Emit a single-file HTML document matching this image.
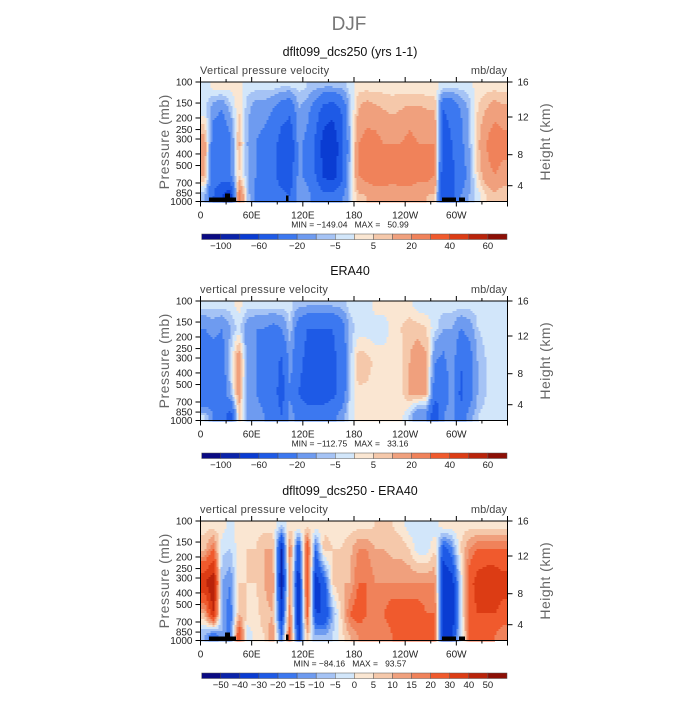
<!DOCTYPE html>
<html><head><meta charset="utf-8"><style>
html,body{margin:0;padding:0;background:#fff;}
svg text{font-family:"Liberation Sans",sans-serif;white-space:pre;}
</style></head><body>
<svg id="fig" width="700" height="700" viewBox="0 0 700 700" xmlns="http://www.w3.org/2000/svg">
<text x="349" y="30" font-size="19" fill="#777" text-anchor="middle" font-weight="100">DJF</text>
</svg>
<script>
// Pressure levels (mb) at which column values are given (top to bottom)
const levels = [110, 170, 330, 600, 900];
// Longitude centers (deg east) of data columns
const lons = [5,15,25,35,45,55,65,75,85,95,105,115,125,135,145,155,165,175,185,195,205,215,225,235,245,255,265,275,285,295,305,315,325,335,345,355];
// Panel 1: model, values per level (mb/day)
const m110 = [-3,2,2,2,2,-3,-3,-3,-3,-5,-5,-3,-5,-8,-10,-10,-8,-3,3,3,3,3,3,3,2,2,2,2,-3,-3,-3,-3,3,3,3,3];
const m170 = [-3,-15,-20,-8,5,-8,-15,-15,-20,-30,-35,-10,-15,-30,-50,-55,-40,-8,10,15,12,10,8,10,12,12,10,10,-40,-35,-20,-8,5,10,15,12];
const m330 = [15,-30,-35,-25,12,-10,-20,-25,-30,-50,-60,-15,-25,-45,-70,-75,-50,-10,20,25,25,20,20,20,25,20,20,20,-50,-40,-25,-10,8,20,30,25];
const m600 = [12,-30,-30,-20,5,-8,-20,-30,-35,-50,-55,-15,-25,-40,-65,-70,-50,-8,20,25,30,30,25,30,30,25,25,20,-60,-45,-30,-15,5,15,20,15];
const m900 = [-10,-40,-60,-80,30,-5,-25,-25,-30,-35,-40,-10,-15,-25,-35,-35,-25,-5,8,10,12,12,12,12,12,10,10,8,-60,-50,-20,-10,-3,5,8,5];
// Panel 2: ERA40
const e110 = [-3,-3,-3,-3,2,-3,-3,-3,-3,-3,-3,-8,-10,-10,-10,-10,-8,-3,-3,-3,2,2,2,2,2,-3,-3,-3,-3,-3,-3,-3,-3,-3,-3,-3];
const e170 = [-20,-15,-20,-10,-3,-15,-20,-20,-25,-20,-5,-30,-40,-40,-40,-40,-30,-8,-3,-3,-3,-3,2,5,8,8,5,-3,-10,-10,-20,-15,-5,-3,-3,-3];
const e330 = [-35,-30,-30,-5,20,-15,-20,-25,-30,-45,-15,-35,-45,-45,-50,-45,-35,-8,10,8,3,3,3,3,10,15,12,-20,-25,-10,-40,-30,-10,-5,-3,-3];
const e600 = [-40,-35,-30,-10,15,-15,-20,-25,-30,-50,-20,-40,-50,-50,-50,-45,-35,-5,3,3,3,3,3,3,10,12,10,-30,-40,-10,-45,-30,-10,-5,-3,-3];
const e900 = [-5,-20,-30,-50,8,-10,-15,-20,-25,-40,-15,-25,-30,-30,-30,-25,-15,-3,3,2,2,2,2,2,-5,-20,-20,-60,-20,-10,-35,-15,-5,-3,-3,-3];
// Panel 3: difference
const d110 = [3,3,3,-3,3,3,3,3,3,-5,3,5,3,3,3,3,3,3,3,3,5,5,5,3,-3,-3,-3,-3,3,3,3,3,3,3,3,3];
const d170 = [8,20,-3,-5,3,5,5,10,10,-40,20,-30,30,-20,8,5,5,8,15,15,10,10,8,8,5,-3,-3,5,-25,-15,5,15,20,20,20,20];
const d330 = [40,50,-10,-15,5,5,5,10,15,-45,15,-40,30,-35,-25,5,10,10,20,20,15,15,15,15,15,15,15,15,-40,-35,-5,25,35,40,40,35];
const d600 = [10,40,-10,-20,10,5,3,8,10,-35,20,-40,25,-30,-30,-10,5,20,25,20,20,20,25,25,25,25,20,20,-40,-40,-5,25,30,30,30,25];
const d900 = [-10,-20,-10,-20,30,-5,3,5,15,-20,25,-35,10,-10,-10,-5,3,10,15,15,15,15,20,20,20,20,20,20,-40,-30,-5,20,25,20,20,15];
// Contour level boundaries
const bounds12 = [-100,-80,-60,-40,-20,-10,-5,0,5,10,20,30,40,50,60];
const bounds3 = [-50,-40,-30,-20,-15,-10,-5,0,5,10,15,20,30,40,50];
const cbLabels12 = ["\u2212100","\u221260","\u221220","\u22125","5","20","40","60"];
const cbLabels3 = ["\u221250","\u221240","\u221230","\u221220","\u221215","\u221210","\u22125","0","5","10","15","20","30","40","50"];
const xTickLabels = ["0","60E","120E","180","120W","60W"];
const pTicks = [100,150,200,250,300,400,500,700,850,1000];
const hTicks = [4,8,12,16];
const hTickY = [103.7,72.7,35,0];
const colors = ["#0a0a82","#0a23aa","#0a3cd2","#1e5ae6","#3c78f0","#6e9bf0","#a5c3f5","#d2e6fa","#fae6d2","#f5c8aa","#f0a07d","#f0825a","#f05a2d","#dc3c14","#b9230a","#8c0f05"];
const panels = [
  {top:82, title:"dflt099_dcs250 (yrs 1-1)", rows:[m110,m170,m330,m600,m900], bounds:bounds12, labels:cbLabels12, labelStep:2, mm:"MIN = \u2212149.04   MAX =   50.99", land:true, name:"model"},
  {top:301, title:"ERA40", rows:[e110,e170,e330,e600,e900], bounds:bounds12, labels:cbLabels12, labelStep:2, mm:"MIN = \u2212112.75   MAX =   33.16", land:false, name:"era40"},
  {top:521, title:"dflt099_dcs250 - ERA40", rows:[d110,d170,d330,d600,d900], bounds:bounds3, labels:cbLabels3, labelStep:1, mm:"MIN = \u221284.16   MAX =   93.57", land:true, name:"difference"}
];
const NS="http://www.w3.org/2000/svg";
const svg=document.getElementById('fig');
const X0=200.5, X1=507.5, H=119.5;
function xs(lon){return X0+(lon/360)*(X1-X0);}
function ys(p,top){return top+Math.log10(p/100)*H;}
function mk(tag,at,parent){const e=document.createElementNS(NS,tag);for(const k in at)e.setAttribute(k,at[k]);(parent||svg).appendChild(e);return e;}
function colorFor(v,b){let i=0;while(i<b.length&&v>=b[i])i++;return colors[i];}
function interp(arr,pos){
  if(pos<=0)return arr[0]; if(pos>=arr.length-1)return arr[arr.length-1];
  const i=Math.floor(pos),f=pos-i;return arr[i]*(1-f)+arr[i+1]*f;}
panels.forEach((P,pi)=>{
  const g=mk('g',{});
  
  
  const t=mk('text',{x:350,y:P.top-26,'font-size':12.5,'text-anchor':'middle',fill:'#111'},g);t.textContent=P.title;
  
  
  const s1=mk('text',{x:200,y:P.top-8,'font-size':11,fill:'#444','letter-spacing':'0.3'},g);s1.textContent=(pi===0?"Vertical":"vertical")+" pressure velocity";
  
  
  const s2=mk('text',{x:507,y:P.top-8,'font-size':11,fill:'#444','text-anchor':'end'},g);s2.textContent="mb/day";
  
  
  const field=mk('g',{},g);
  
  
  const lv=levels.map(p=>Math.log10(p));
  const dx=2, dy=2;
  for(let y=P.top;y<P.top+H;y+=dy){
    const p=100*Math.pow(10,(y+dy/2-P.top)/H);
    const lp=Math.log10(p);
    let lpos; if(lp<=lv[0])lpos=0; else if(lp>=lv[lv.length-1])lpos=lv.length-1; else {let k=0;while(lp>lv[k+1])k++;lpos=k+(lp-lv[k])/(lv[k+1]-lv[k]);}
    let prev=null,startX=X0;
    for(let x=X0;x<X1;x+=dx){
      const lon=(x+dx/2-X0)/(X1-X0)*360;
      const cpos=(lon-lons[0])/10;
      const vals=P.rows.map(r=>interp(r,cpos));
      const v=interp(vals,lpos);
      const c=colorFor(v,P.bounds);
      if(c!==prev){ if(prev)mk('rect',{x:startX,y:y,width:x-startX+0.5,height:dy+0.5,fill:prev},field); prev=c;startX=x;}
    }
    mk('rect',{x:startX,y:y,width:X1-startX,height:Math.min(dy+0.5,P.top+H-y),fill:prev},field);
  }
  if(P.land){
    const bt=P.top+H;
    [[209,bt-4,27,4],[225,bt-8,5,4],[286,bt-6,2.5,6],[442,bt-4,14,4],[459,bt-4,6,4]].forEach(r=>{
      const l=mk('rect',{x:r[0],y:r[1],width:r[2],height:r[3],fill:'#000'},field);
      
      
    });
  }
  const fr=mk('rect',{x:X0,y:P.top,width:X1-X0,height:H,fill:'none',stroke:'#000','stroke-width':1},g);
  
  
  for(let lon=0;lon<=360;lon+=30){
    const major=lon%60===0, x=xs(lon);
    mk('line',{x1:x,x2:x,y1:P.top+H,y2:P.top+H+(major?5:3),stroke:'#000'},g);
    mk('line',{x1:x,x2:x,y1:P.top,y2:P.top-(major?5:3),stroke:'#000'},g);
    if(major&&lon<360){const tl=mk('text',{x:x,y:P.top+H+17,'font-size':10,'text-anchor':'middle',fill:'#222'},g);tl.textContent=xTickLabels[lon/60];
      
      }
  }
  const mmt=mk('text',{x:350,y:P.top+H+26,'font-size':8.5,'text-anchor':'middle',fill:'#222'},g);mmt.textContent=P.mm;
  
  
  pTicks.forEach(p=>{const y=ys(p,P.top);
    mk('line',{x1:X0-5,x2:X0,y1:y,y2:y,stroke:'#000'},g);
    const tl=mk('text',{x:X0-8,y:y+3.5,'font-size':10,'text-anchor':'end',fill:'#222'},g);tl.textContent=p;
    
    });
  hTicks.forEach((h,i)=>{const y=P.top+hTickY[i];
    mk('line',{x1:X1,x2:X1+5,y1:y,y2:y,stroke:'#000'},g);
    const tl=mk('text',{x:X1+10,y:y+3.5,'font-size':10,fill:'#222'},g);tl.textContent=h;
    
    });
  const yl=mk('text',{x:0,y:0,'font-size':14,'text-anchor':'middle',fill:'#666',transform:`translate(169,${P.top+H/2}) rotate(-90)`,'letter-spacing':'0.5'},g);yl.textContent="Pressure (mb)";
  
  
  const yr=mk('text',{x:0,y:0,'font-size':14,'text-anchor':'middle',fill:'#666',transform:`translate(550,${P.top+H/2}) rotate(-90)`,'letter-spacing':'0.5'},g);yr.textContent="Height (km)";
  
  
  const cb=mk('g',{},g);
  
  
  const cy=P.top+152, cx0=201.7, cw=(507-201.7)/16;
  colors.forEach((c,i)=>{const r=mk('rect',{x:cx0+i*cw,y:cy,width:cw,height:5.5,fill:c,stroke:'#555','stroke-width':0.5},cb);
    
    });
  P.labels.forEach((lab,i)=>{const b=1+i*P.labelStep;
    const tl=mk('text',{x:cx0+b*cw,y:cy+15,'font-size':9.5,'text-anchor':'middle',fill:'#222'},cb);tl.textContent=lab;
    
    });
});
</script>
</body></html>
